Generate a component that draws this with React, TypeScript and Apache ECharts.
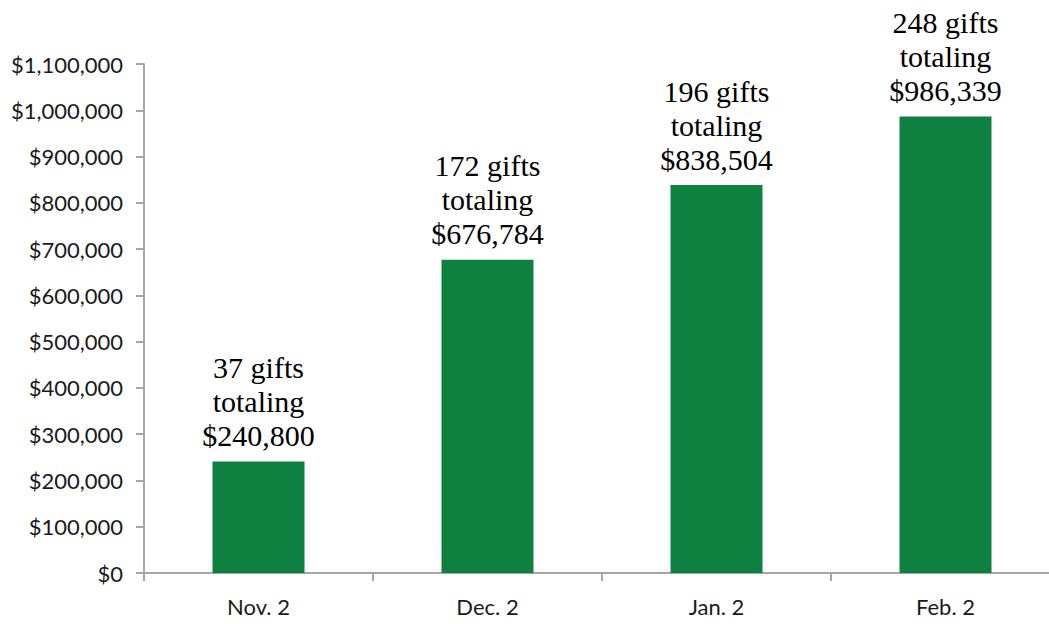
import React, { useEffect, useRef } from "react";
import * as echarts from "echarts";

const categories = ["Nov. 2", "Dec. 2", "Jan. 2", "Feb. 2"];
const totals = [240800, 676784, 838504, 986339];
const gifts = [37, 172, 196, 248];

const fmt = (v: number) => "$" + v.toLocaleString("en-US");

export default function App() {
  const ref = useRef<HTMLDivElement>(null);
  useEffect(() => {
    const chart = echarts.init(ref.current!, null, { renderer: "svg" });
    chart.setOption({
      animation: false,
      backgroundColor: "#ffffff",
      grid: { left: 144, right: 0, top: 64, bottom: 51, containLabel: false },
      xAxis: {
        type: "category",
        data: categories,
        axisLine: { lineStyle: { color: "#a6a6a6", width: 2 } },
        axisTick: { show: true, length: 8, lineStyle: { color: "#a6a6a6", width: 2 } },
        axisLabel: { color: "#1a1a1a", fontFamily: "Lato", fontSize: 22, margin: 22 },
      },
      yAxis: {
        type: "value",
        min: 0,
        max: 1100000,
        interval: 100000,
        splitLine: { show: false },
        axisLine: { show: true, lineStyle: { color: "#a6a6a6", width: 2 } },
        axisTick: { show: true, length: 8, lineStyle: { color: "#a6a6a6", width: 2 } },
        axisLabel: {
          color: "#1a1a1a",
          fontFamily: "Lato",
          fontSize: 22,
          margin: 21,
          formatter: (v: number) => fmt(v),
        },
      },
      series: [
        {
          type: "bar",
          data: totals,
          barWidth: 92,
          itemStyle: { color: "#0e8040" },
          label: {
            show: true,
            position: "top",
            distance: 9,
            color: "#000000",
            fontFamily: "Liberation Serif",
            fontSize: 30,
            lineHeight: 34,
            align: "center",
            formatter: (p: any) => `${gifts[p.dataIndex]} gifts\ntotaling\n${fmt(p.value)}`,
          },
        },
      ],
    });
    return () => chart.dispose();
  }, []);
  return (
    <div
      style={{ position: "absolute", left: 0, top: 0, width: 1049, height: 624, overflow: "hidden" }}
    >
      <div ref={ref} style={{ width: 1060, height: 624 }} />
    </div>
  );
}
